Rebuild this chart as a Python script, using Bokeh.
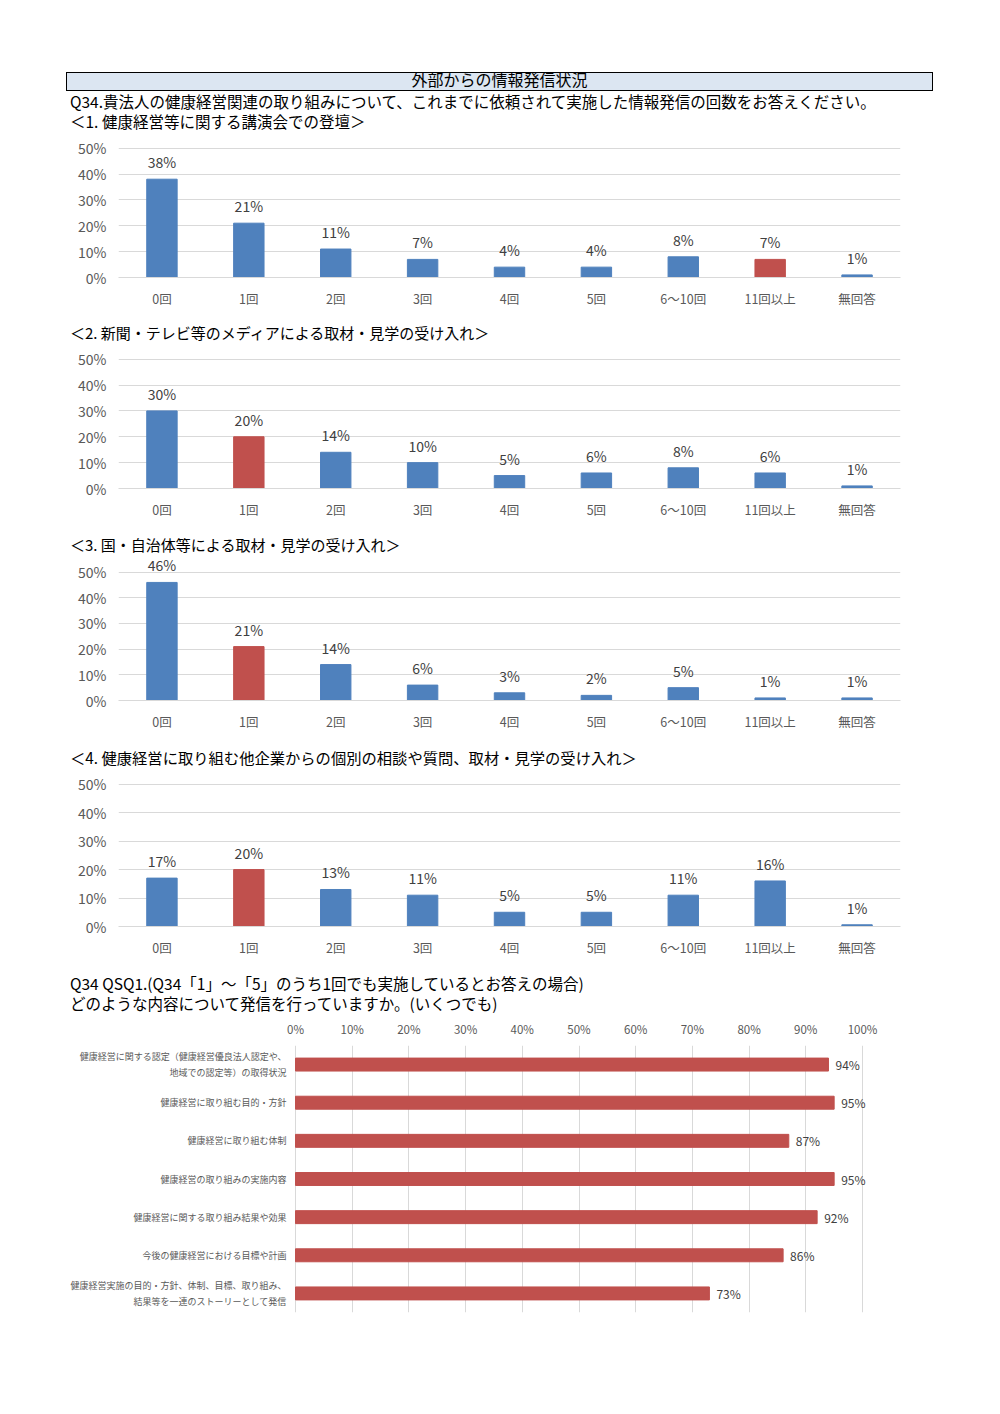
from bokeh.plotting import figure
from bokeh.models import (ColumnDataSource, FactorRange, Range1d, LabelSet, Div,
                          FixedTicker, PrintfTickFormatter)
from bokeh.core.properties import value
from bokeh.layouts import column
from bokeh.embed import file_html
from bokeh.resources import INLINE

FONT = "Noto Sans CJK JP"
BLUE = "#4F81BD"
RED = "#C0504D"
GRID = "#D9D9D9"
AXIS_TXT = "#595959"
LBL_TXT = "#404040"

header_text = "外部からの情報発信状況"
q34_text = "Q34.貴法人の健康経営関連の取り組みについて、これまでに依頼されて実施した情報発信の回数をお答えください。"
sub1_text = "＜1. 健康経営等に関する講演会での登壇＞"
sub2_text = "＜2. 新聞・テレビ等のメディアによる取材・見学の受け入れ＞"
sub3_text = "＜3. 国・自治体等による取材・見学の受け入れ＞"
sub4_text = "＜4. 健康経営に取り組む他企業からの個別の相談や質問、取材・見学の受け入れ＞"
qsq1_line1 = "Q34 QSQ1.(Q34「1」～「5」のうち1回でも実施しているとお答えの場合)"
qsq1_line2 = "どのような内容について発信を行っていますか。(いくつでも)"

categories = ["0回", "1回", "2回", "3回", "4回", "5回", "6～10回", "11回以上", "無回答"]
y_ticks = [0, 10, 20, 30, 40, 50]

s1_values = [38, 21, 11, 7, 4, 4, 8, 7, 1]
s1_highlight = "11回以上"
s2_values = [30, 20, 14, 10, 5, 6, 8, 6, 1]
s2_highlight = "1回"
s3_values = [46, 21, 14, 6, 3, 2, 5, 1, 1]
s3_highlight = "1回"
s4_values = [17, 20, 13, 11, 5, 5, 11, 16, 0.6]
s4_highlight = "1回"

content_labels = [
    "健康経営に関する認定（健康経営優良法人認定や、\n地域での認定等）の取得状況",
    "健康経営に取り組む目的・方針",
    "健康経営に取り組む体制",
    "健康経営の取り組みの実施内容",
    "健康経営に関する取り組み結果や効果",
    "今後の健康経営における目標や計画",
    "健康経営実施の目的・方針、体制、目標、取り組み、\n結果等を一連のストーリーとして発信",
]
content_values = [94, 95, 87, 95, 92, 86, 73]
x_ticks = [0, 10, 20, 30, 40, 50, 60, 70, 80, 90, 100]

W = 984
LEFT = 118
RIGHT = 84


def text_line(text, size, line_h):
    return (f'<div style="margin:0 0 0 70px;padding:0;font-size:{size}px;line-height:{line_h}px;'
            f'white-space:nowrap;color:#000;">{text}</div>')


def title_div(lines, pad_top, height, size=15, line_h=20):
    body = "".join(text_line(t, size, line_h) for t in lines)
    html = (f'<div style="margin:0;padding:{pad_top}px 0 0 0;font-family:\'{FONT}\';">{body}</div>')
    return Div(text=html, width=W, height=height, styles={"margin": "0", "padding": "0"})


header_html = (
    f'<div style="margin:0;padding:72px 0 0 0;font-family:\'{FONT}\';">'
    f'<div style="margin:0 0 0 66px;box-sizing:border-box;width:867px;height:19px;'
    f'border:1.5px solid #000;background:#DCE6F2;text-align:center;font-size:16px;'
    f'line-height:12px;color:#000;white-space:nowrap;overflow:visible;">{header_text}</div>'
    + text_line(q34_text, 15.5, 20) + text_line(sub1_text, 15.5, 20) + '</div>'
)
header = Div(text=header_html, width=W, height=131, styles={"margin": "0", "padding": "0"})


def bar_chart(values, highlight, height, frame_h, top_px_above_50):
    # y range extends above 50% so that value labels above tall bars stay inside the frame
    ppu = (frame_h - top_px_above_50) / 50
    y_end = 50 + top_px_above_50 / ppu
    src = ColumnDataSource(dict(
        cat=categories,
        val=values,
        color=[RED if c == highlight else BLUE for c in categories],
        label=[f"{round(v)}%" for v in values],
    ))
    p = figure(width=W, height=height, x_range=FactorRange(*categories), y_range=Range1d(0, y_end),
               output_backend="svg", toolbar_location=None,
               min_border_top=0, min_border_bottom=height - frame_h,
               min_border_left=LEFT, min_border_right=RIGHT)
    p.outline_line_color = None
    p.vbar(x="cat", top="val", width=0.35, source=src, fill_color="color", line_color="color")
    p.add_layout(LabelSet(x="cat", y="val", text="label", source=src, y_offset=7,
                          text_align="center", text_baseline="bottom",
                          text_font=value(FONT), text_font_size="14px", text_color=LBL_TXT))
    p.xgrid.visible = False
    p.ygrid.grid_line_color = GRID
    p.yaxis.ticker = FixedTicker(ticks=y_ticks)
    p.yaxis.formatter = PrintfTickFormatter(format="%d%%")
    p.yaxis.axis_line_color = None
    p.yaxis.major_tick_line_color = None
    p.yaxis.minor_tick_line_color = None
    p.yaxis.major_tick_in = 0
    p.yaxis.major_tick_out = 0
    p.yaxis.major_label_standoff = 12
    p.yaxis.major_label_text_font = FONT
    p.yaxis.major_label_text_font_size = "14px"
    p.yaxis.major_label_text_color = AXIS_TXT
    p.xaxis.axis_line_color = GRID
    p.xaxis.major_tick_line_color = None
    p.xaxis.major_tick_in = 0
    p.xaxis.major_tick_out = 0
    p.xaxis.major_label_standoff = 11
    p.xaxis.major_label_text_font = FONT
    p.xaxis.major_label_text_font_size = "12.5px"
    p.xaxis.major_label_text_color = AXIS_TXT
    return p


p1 = bar_chart(s1_values, s1_highlight, 179, 149, 17)
d2 = title_div([sub2_text], 13, 33)
p2 = bar_chart(s2_values, s2_highlight, 178, 148, 16)
d3 = title_div([sub3_text], 14, 34)
p3 = bar_chart(s3_values, s3_highlight, 178, 148, 17)
d4 = title_div([sub4_text], 14, 34, size=15.3)
p4 = bar_chart(s4_values, s4_highlight, 192, 162, 17)
d5 = title_div([qsq1_line1, qsq1_line2], 14, 54, size=15.5, line_h=20)

# horizontal chart: 0% at page x 295, 100% at 862, frame spans 118..900
px_per_pct = (862 - 295) / 100
x_start = -(295 - LEFT) / px_per_pct
x_end = (W - RIGHT - 295) / px_per_pct

src5 = ColumnDataSource(dict(cat=content_labels, val=content_values,
                             label=[f"{v}%" for v in content_values]))
p5 = figure(width=W, height=317, y_range=FactorRange(*reversed(content_labels)),
            x_range=Range1d(x_start, x_end), x_axis_location="above",
            output_backend="svg", toolbar_location=None,
            min_border_top=32, min_border_bottom=18, min_border_left=LEFT, min_border_right=RIGHT)
p5.outline_line_color = None
p5.hbar(y="cat", right="val", height=0.34, source=src5, fill_color=RED, line_color=RED)
p5.add_layout(LabelSet(x="val", y="cat", text="label", source=src5, x_offset=7,
                       text_align="left", text_baseline="middle",
                       text_font=value(FONT), text_font_size="12px", text_color=LBL_TXT))
p5.ygrid.visible = False
p5.yaxis.axis_line_color = None
p5.yaxis.major_tick_line_color = None
p5.yaxis.major_tick_in = 0
p5.yaxis.major_tick_out = 0
# category labels end 9px left of the 0% line, inside the frame's white area
p5.yaxis.major_label_standoff = -(295 - 9 - LEFT)
p5.yaxis.major_label_text_font = FONT
p5.yaxis.major_label_text_font_size = "9px"
p5.yaxis.major_label_text_color = AXIS_TXT
p5.xgrid.grid_line_color = GRID
p5.xaxis.ticker = FixedTicker(ticks=x_ticks)
p5.xaxis.formatter = PrintfTickFormatter(format="%d%%")
p5.xaxis.axis_line_color = None
p5.xaxis.major_tick_line_color = None
p5.xaxis.minor_tick_line_color = None
p5.xaxis.major_tick_in = 0
p5.xaxis.major_tick_out = 0
p5.xaxis.major_label_standoff = 9
p5.xaxis.major_label_text_font = FONT
p5.xaxis.major_label_text_font_size = "11.5px"
p5.xaxis.major_label_text_color = AXIS_TXT

layout = column(header, p1, d2, p2, d3, p3, d4, p4, d5, p5)
open("out.html", "w").write(file_html(layout, INLINE))
